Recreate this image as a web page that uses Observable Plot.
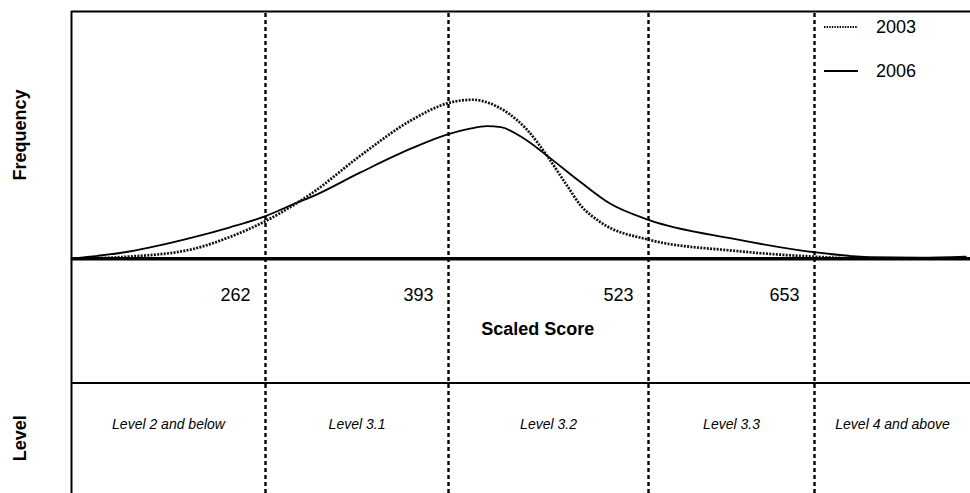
<!DOCTYPE html>
<html>
<head>
<meta charset="utf-8">
<script src="https://cdn.jsdelivr.net/npm/d3@7"></script>
<script src="https://cdn.jsdelivr.net/npm/@observablehq/plot@0.6"></script>
<style>
  html, body { margin: 0; padding: 0; background: #fff; }
  #wrap { position: relative; width: 970px; height: 493px; font-family: "Liberation Sans", Arial, sans-serif; }
  #legend { position: absolute; left: 0; top: 0; pointer-events: none; }
</style>
</head>
<body>
<div id="wrap"></div>
<script>
// ---- data ----
const levelBounds = [131, 262, 393, 523, 653, 783];
const cutScores = [262, 393, 523, 653];
const cutLabels = ["262", "393", "523", "653"];
const levelNames = ["Level 2 and below", "Level 3.1", "Level 3.2", "Level 3.3", "Level 4 and above"];

const score2003 = [131, 169, 213, 238, 262, 285, 294, 330, 366, 393, 401, 409, 420, 431, 444, 457, 470, 479, 492, 523, 590, 653, 700, 783];
const freq2003  = [0, 0.08, 0.39, 0.88, 1.52, 2.27, 2.6, 4.17, 5.59, 6.30, 6.40, 6.43, 6.28, 5.92, 5.22, 4.17, 2.96, 2.15, 1.47, 0.77, 0.32, 0.08, 0.0, 0.0];

const score2006 = [131, 169, 213, 238, 262, 285, 294, 330, 366, 393, 407, 418, 427, 442, 457, 479, 498, 523, 590, 653, 700, 741, 779];
const freq2006  = [0, 0.28, 0.86, 1.27, 1.72, 2.28, 2.48, 3.49, 4.45, 5.04, 5.26, 5.36, 5.32, 4.86, 4.17, 3.09, 2.23, 1.57, 0.80, 0.26, 0.06, 0.04, 0.08];

const yTop = 10, yBottom = -9.5, yLevelLine = -5.03, yLevelText = -6.7;

const d2003 = score2003.map((s, i) => ({score: s, freq: freq2003[i]}));
const d2006 = score2006.map((s, i) => ({score: s, freq: freq2006[i]}));
const levels = levelNames.map((name, i) => ({name, mid: (levelBounds[i] + levelBounds[i + 1]) / 2}));
const ticks = cutScores.map((s, i) => ({s, label: cutLabels[i]}));

const font = "Liberation Sans, Arial, sans-serif";

const chart = Plot.plot({
  width: 970,
  height: 493,
  margin: 0,
  style: {fontFamily: font, background: "#fff", color: "#000"},
  x: {type: "linear", domain: levelBounds, range: [71, 265, 448, 648, 814, 970], axis: null},
  y: {type: "linear", domain: [yBottom, yTop], range: [493, 11], axis: null},
  marks: [
    Plot.ruleY([yTop], {x1: levelBounds[0], x2: levelBounds[5], stroke: "#000", strokeWidth: 2}),
    Plot.ruleY([yLevelLine], {x1: levelBounds[0], x2: levelBounds[5], stroke: "#000", strokeWidth: 2}),
    Plot.ruleX(cutScores, {y1: yBottom, y2: yTop, stroke: "#000", strokeWidth: 2.4, strokeDasharray: "4,3"}),
    Plot.line(d2006, {x: "score", y: "freq", curve: "monotone-x", stroke: "#000", strokeWidth: 1.8}),
    Plot.line(d2003, {x: "score", y: "freq", curve: "monotone-x", stroke: "#111", strokeWidth: 2.7, strokeDasharray: "2,1.3", strokeLinecap: "butt"}),
    Plot.ruleY([0], {x1: levelBounds[0], x2: levelBounds[5], stroke: "#000", strokeWidth: 3.5}),
    Plot.ruleX([levelBounds[0]], {y1: yBottom, y2: yTop, stroke: "#000", strokeWidth: 2}),
    Plot.text(ticks, {x: "s", y: 0, text: "label", dx: -15, dy: 37, textAnchor: "end", fontSize: 18, fill: "#000"}),
    Plot.text(["Scaled Score"], {x: 451, y: 0, dy: 71, text: d => d, fontSize: 18, fontWeight: "bold", fill: "#000"}),
    Plot.text(levels, {x: "mid", y: yLevelText, text: "name", fontSize: 14, fontStyle: "italic", fill: "#000"}),
    Plot.text(["Frequency"], {frameAnchor: "left", dx: 20, y: yTop / 2, text: d => d, rotate: -90, textAnchor: "middle", fontSize: 18, fontWeight: "bold", fill: "#000"}),
    Plot.text(["Level"], {frameAnchor: "left", dx: 20, y: (yLevelLine + yBottom) / 2, text: d => d, rotate: -90, textAnchor: "middle", fontSize: 18, fontWeight: "bold", fill: "#000"})
  ]
});

const wrap = document.getElementById("wrap");
wrap.appendChild(chart);

// legend overlay
const legendItems = [
  {label: "2003", dash: "1.4,1.2", width: 2.2, y: 27},
  {label: "2006", dash: null, width: 2, y: 71}
];
const ns = "http://www.w3.org/2000/svg";
const lg = document.createElementNS(ns, "svg");
lg.setAttribute("id", "legend");
lg.setAttribute("width", 970);
lg.setAttribute("height", 120);
legendItems.forEach(it => {
  const l = document.createElementNS(ns, "line");
  l.setAttribute("x1", 824); l.setAttribute("x2", 858);
  l.setAttribute("y1", it.y); l.setAttribute("y2", it.y);
  l.setAttribute("stroke", "#000");
  l.setAttribute("stroke-width", it.width);
  if (it.dash) l.setAttribute("stroke-dasharray", it.dash);
  lg.appendChild(l);
  const t = document.createElementNS(ns, "text");
  t.setAttribute("x", 876); t.setAttribute("y", it.y);
  t.setAttribute("dy", "0.35em");
  t.setAttribute("font-size", 18);
  t.setAttribute("font-family", font);
  t.textContent = it.label;
  lg.appendChild(t);
});
wrap.appendChild(lg);
</script>
</body>
</html>
